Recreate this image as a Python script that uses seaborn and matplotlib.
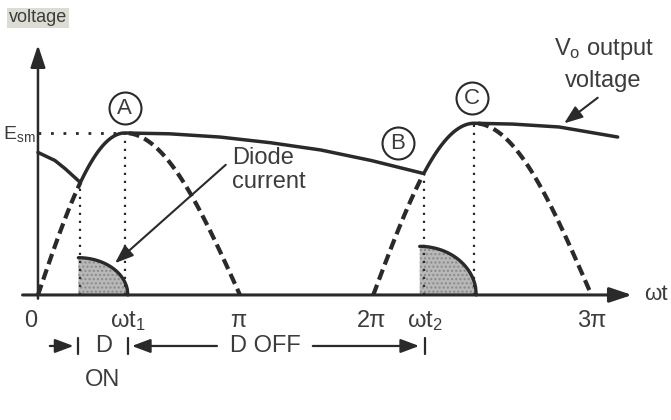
import numpy as np
import matplotlib
matplotlib.use("Agg")
import matplotlib.pyplot as plt
import seaborn as sns

# ---------------- data (x in units of pi, y in units of E_sm) ----------------
hump_start = [0.0, 1.66]
hump_peak = [0.43, 2.16]
hump_end = [1.0, 2.74]
hump_amp = [1.0, 1.06]
diode_on = [0.21, 1.91]          # where diode starts conducting (output meets sine)

decay0_x = [0.0, 0.084, 0.134]
decay0_v = [0.88, 0.83, 0.78]
decayAB_x = [0.65, 0.90, 1.15, 1.40, 1.65]
decayAB_v = [0.995, 0.975, 0.94, 0.895, 0.83]
decayC_x = [2.35, 2.58, 2.87]
decayC_v = [1.055, 1.037, 0.975]

shade_start = [0.20, 1.89]
shade_end = [0.445, 2.17]
shade_height = [0.23, 0.30]

xtick_pos = [-0.035, 0.446, 0.99, 1.653, 1.916, 2.74]
xtick_labels = ["0", r"ωt$_1$", "π", "2π", r"ωt$_2$", "3π"]

point_labels = ["A", "B", "C"]
point_x = [0.43, 1.78, 2.15]
point_y = [1.155, 0.94, 1.215]

# ---------------- style ----------------
sns.set_theme(style="white")
plt.rcParams["font.family"] = ["Liberation Sans", "DejaVu Sans"]
plt.rcParams["mathtext.fontset"] = "custom"
plt.rcParams["mathtext.rm"] = "Liberation Sans"
plt.rcParams["mathtext.it"] = "Liberation Sans"

LC = "#2a2a2a"
TC = "#3c3c3c"

fig = plt.figure(figsize=(6.71, 4.2), dpi=100)
ax = fig.add_axes([0, 0, 1, 1])
ax.set_xlim(-0.188, 3.134)
ax.set_ylim(-0.772, 1.821)
ax.axis("off")


def hump(x, i):
    s, p, e, a = hump_start[i], hump_peak[i], hump_end[i], hump_amp[i]
    x = np.asarray(x, dtype=float)
    return np.where(x <= p,
                    a * np.sin((x - s) / (p - s) * np.pi / 2),
                    a * np.cos((x - p) / (e - p) * np.pi / 2))


# ---------------- axes lines ----------------
ax.annotate("", xy=(2.955, 0), xytext=(-0.09, 0),
            arrowprops=dict(arrowstyle="-|>,head_length=0.9,head_width=0.3",
                            mutation_scale=15, lw=2.2, color=LC))
ax.annotate("", xy=(0, 1.56), xytext=(0, -0.04),
            arrowprops=dict(arrowstyle="-|>,head_length=0.9,head_width=0.3",
                            mutation_scale=15, lw=1.8, color=LC))
ax.text(3.0, 0.0, "ωt", fontsize=16, color=TC, ha="left", va="center")
ax.text(0.0, 1.71, "voltage", fontsize=13, color=TC, ha="center", va="center",
        bbox=dict(boxstyle="square,pad=0.1", fc="#dcdcd4", ec="none"))
ax.text(-0.012, 0.96, r"E$_{\rm sm}$", fontsize=14, color=TC, ha="right",
        va="baseline")

# ---------------- shaded diode current ----------------
for i in range(2):
    xs = np.linspace(shade_start[i], shade_end[i], 80)
    w = shade_end[i] - shade_start[i]
    ys = shade_height[i] * np.sqrt(np.clip(1 - ((xs - shade_start[i]) / w) ** 2, 0, 1))
    ax.fill_between(xs, 0, ys, facecolor="#b8b8b8", edgecolor="#8a8a8a",
                    hatch="....", lw=0)
    sns.lineplot(x=xs, y=ys, ax=ax, color=LC, lw=2.4, sort=False, estimator=None)

# ---------------- input sine (dashed visible parts) ----------------
for i in range(2):
    xr = np.linspace(hump_start[i], diode_on[i], 40)
    xf = np.linspace(hump_peak[i] + 0.02, hump_end[i], 80)
    for xx in (xr, xf):
        sns.lineplot(x=xx, y=hump(xx, i), ax=ax, color=LC, lw=3.0,
                     linestyle=(0, (2.6, 1.3)), sort=False, estimator=None)

# ---------------- output voltage ----------------
on1, on2 = diode_on
r1 = np.linspace(on1, hump_peak[0], 40)
r2 = np.linspace(on2, hump_peak[1], 40)
out_x = (list(decay0_x) + list(r1) + list(decayAB_x) + list(r2) + list(decayC_x))
out_v = (list(decay0_v) + list(hump(r1, 0)) + list(decayAB_v)
         + list(hump(r2, 1)) + list(decayC_v))
sns.lineplot(x=out_x, y=out_v, ax=ax, color=LC, lw=2.5, sort=False,
             estimator=None)

# ---------------- dotted guides ----------------
ax.plot([0, hump_peak[0]], [hump_amp[0], hump_amp[0]], color=LC, lw=2,
        linestyle=(0, (1, 3.5)))
for xv, yv in [(on1, float(hump(on1, 0))), (hump_peak[0], hump_amp[0]),
               (on2, float(hump(on2, 1))), (hump_peak[1], hump_amp[1])]:
    ax.plot([xv, xv], [0, yv], color=LC, lw=1.6, linestyle=(0, (1, 2.6)))

# ---------------- circled points ----------------
for lbl, px, py in zip(point_labels, point_x, point_y):
    ax.plot(px, py, "o", ms=23, mfc="white", mec=LC, mew=1.5)
    ax.text(px, py - 0.005, lbl, fontsize=16, color=TC, ha="center", va="center")

# ---------------- tick labels ----------------
for xp, lab in zip(xtick_pos, xtick_labels):
    ax.text(xp, -0.198, lab, fontsize=17, color=TC, ha="center", va="baseline")

# ---------------- annotations ----------------
ax.text(0.96, 0.772, "Diode\ncurrent", fontsize=17, color=TC, ha="left",
        va="center", linespacing=1.15)
ax.annotate("", xy=(0.371, 0.185), xytext=(0.94, 0.815),
            arrowprops=dict(arrowstyle="-|>,head_length=0.8,head_width=0.3",
                            mutation_scale=14, lw=1.5, color=LC))
ax.text(2.80, 1.426, "V$_o$ output\nvoltage", fontsize=17, color=TC, ha="center",
        va="center", linespacing=1.45)
ax.annotate("", xy=(2.594, 1.049), xytext=(2.782, 1.228),
            arrowprops=dict(arrowstyle="-|>,head_length=0.8,head_width=0.3",
                            mutation_scale=14, lw=1.5, color=LC))

ya = -0.315
arrow_kw = dict(arrowstyle="-|>,head_length=0.8,head_width=0.3",
                mutation_scale=14, lw=1.6, color=LC)
ax.annotate("", xy=(shade_start[0] - 0.01, ya), xytext=(0.045, ya),
            arrowprops=arrow_kw)
ax.annotate("", xy=(xtick_pos[1] + 0.005, ya), xytext=(0.90, ya),
            arrowprops=arrow_kw)
ax.annotate("", xy=(xtick_pos[4] - 0.015, ya), xytext=(1.347, ya),
            arrowprops=arrow_kw)
for xb in (shade_start[0], xtick_pos[1], xtick_pos[4]):
    ax.plot([xb, xb], [ya - 0.05, ya + 0.05], color=LC, lw=1.6)
ax.text(0.325, ya, "D", fontsize=17, color=TC, ha="center", va="center")
ax.text(0.318, -0.525, "ON", fontsize=17, color=TC, ha="center", va="center")
ax.text(1.124, ya, "D OFF", fontsize=17, color=TC, ha="center", va="center")

fig.savefig("out.png", dpi=100, facecolor="white")
